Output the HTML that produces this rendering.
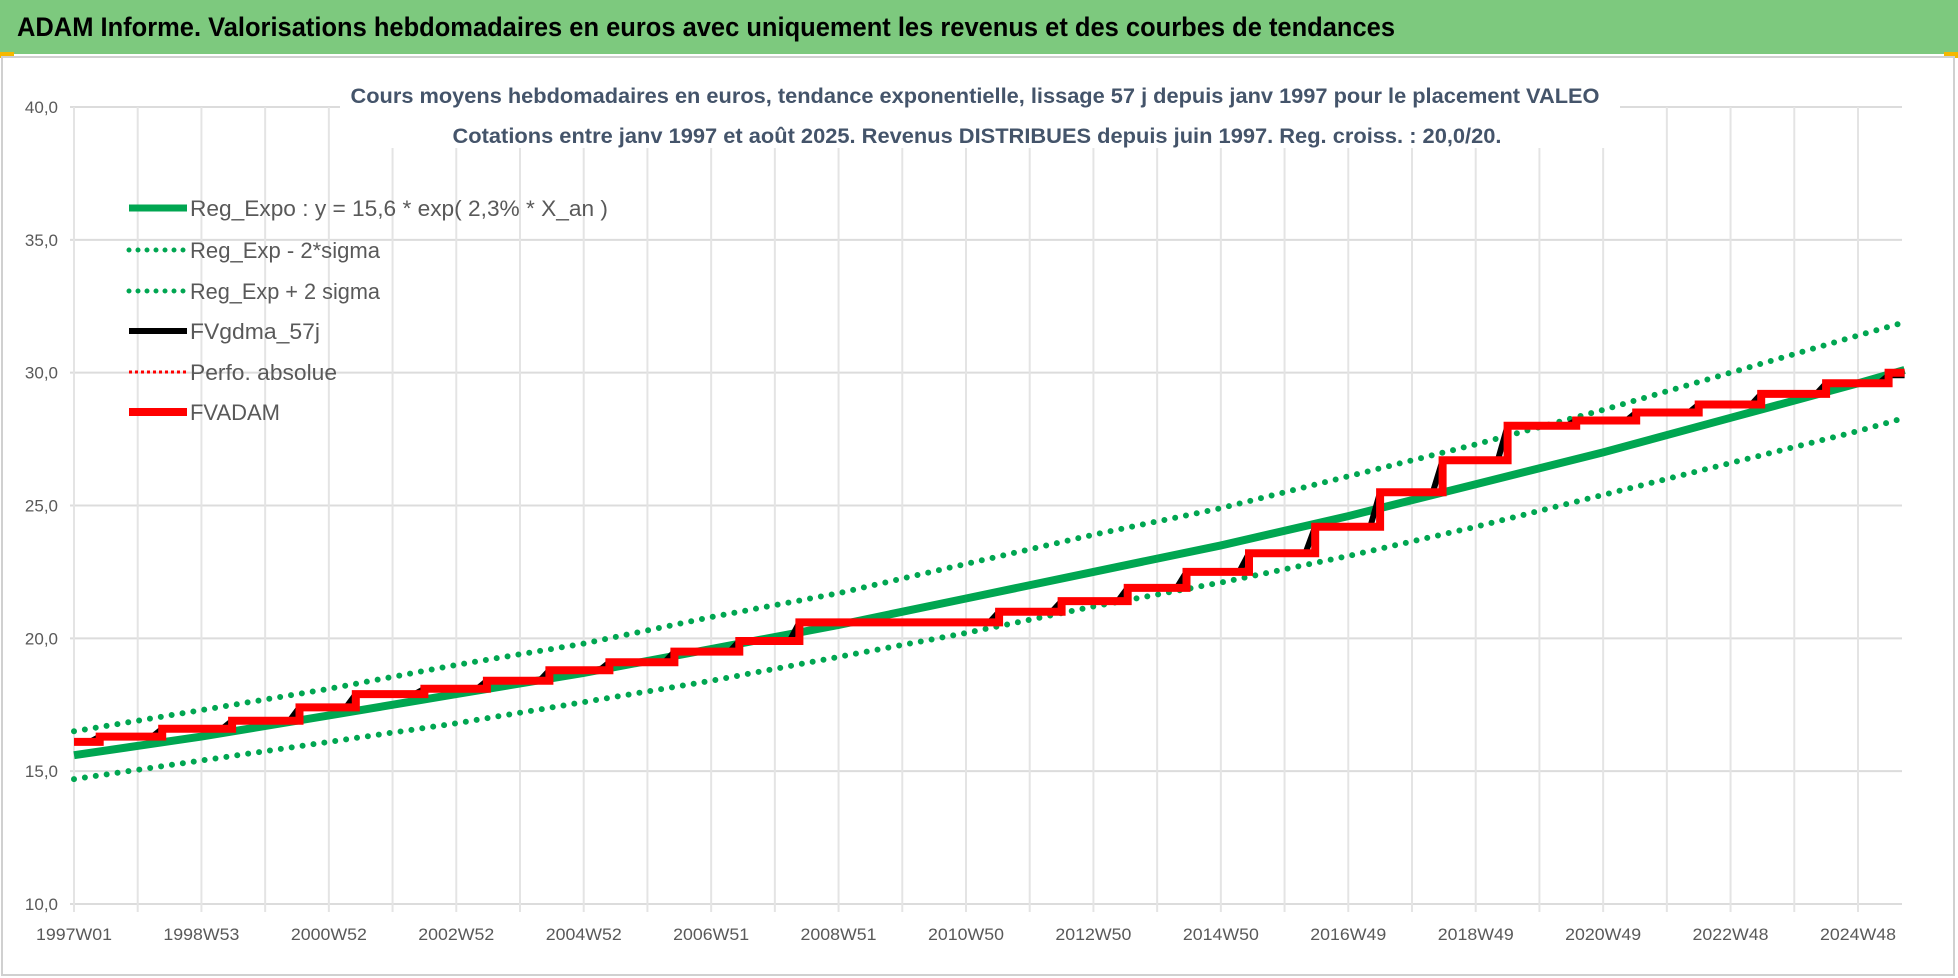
<!DOCTYPE html>
<html><head><meta charset="utf-8"><style>
html,body{margin:0;padding:0;background:#fff;}
svg{display:block;font-family:"Liberation Sans",sans-serif;}
</style></head><body>
<svg id="chart" width="1958" height="978" viewBox="0 0 1958 978">
<rect x="0" y="0" width="1958" height="54" fill="#7dc97e"/>
<rect x="0" y="52" width="14" height="6" fill="#f5b800"/>
<rect x="1944" y="52" width="14" height="6" fill="#f5b800"/>
<text x="17" y="36" font-size="27" font-weight="bold" fill="#000" textLength="1378" lengthAdjust="spacingAndGlyphs">ADAM Informe. Valorisations hebdomadaires en euros avec uniquement les revenus et des courbes de tendances</text>
<rect x="2" y="57" width="1952" height="918" fill="#fff" stroke="#d0d0d0" stroke-width="2"/>
<g id="grid"></g>
<g id="yaxis"></g>
<g id="xaxis"></g>
<rect x="340" y="78" width="1280" height="70" fill="#fff"/>
<text x="975" y="103" font-size="21" font-weight="bold" fill="#44546a" text-anchor="middle" textLength="1249" lengthAdjust="spacingAndGlyphs">Cours moyens hebdomadaires en euros, tendance exponentielle, lissage 57 j depuis janv 1997 pour le placement VALEO</text>
<text x="977" y="143" font-size="21" font-weight="bold" fill="#44546a" text-anchor="middle" textLength="1049" lengthAdjust="spacingAndGlyphs">Cotations entre janv 1997 et août 2025. Revenus DISTRIBUES depuis juin 1997. Reg. croiss. : 20,0/20.</text>
<g id="series"></g>
<g id="legend"></g>
</svg>
<script>
// Data
const xLabels=["1997W01","1998W53","2000W52","2002W52","2004W52","2006W51","2008W51","2010W50","2012W50","2014W50","2016W49","2018W49","2020W49","2022W48","2024W48"];
const yTicks=[10,15,20,25,30,35,40];
const yTickLabels=["10,0","15,0","20,0","25,0","30,0","35,0","40,0"];
const regWeeks=[0,104,208,312,416,520,624,728,832,936,1040,1144,1248,1352,1456,1494];
const regExpo=[15.6,16.3,17.1,17.9,18.7,19.6,20.5,21.5,22.5,23.5,24.6,25.8,27.0,28.3,29.6,30.1];
const regLow=[14.7,15.4,16.1,16.8,17.6,18.4,19.3,20.2,21.2,22.1,23.1,24.2,25.4,26.6,27.8,28.3];
const regHigh=[16.5,17.3,18.1,19.0,19.8,20.8,21.7,22.8,23.9,24.9,26.1,27.3,28.6,30.0,31.4,31.9];
const stepWeeks=[0,21,72,129,184,230,286,337,388,437,490,543,592,755,806,860,908,959,1013,1066,1117,1170,1226,1275,1326,1377,1430,1481,1494];
const fvadam=[16.1,16.3,16.6,16.9,17.4,17.9,18.1,18.4,18.8,19.1,19.5,19.9,20.6,21.0,21.4,21.9,22.5,23.2,24.2,25.5,26.7,28.0,28.2,28.5,28.8,29.2,29.6,30.0];
const fvgdma=[16.1,16.3,16.6,16.9,17.4,17.9,18.1,18.4,18.8,19.1,19.5,19.9,20.6,21.0,21.4,21.9,22.5,23.2,24.2,25.5,26.7,28.0,28.2,28.5,28.8,29.2,29.6,29.9];
const labelWeeks=[0,104,208,312,416,520,624,728,832,936,1040,1144,1248,1352,1456];

const NS="http://www.w3.org/2000/svg";
const X0=74,WPX=1784/1456,Y40=107,PPU=797/30,XR=1902;
const xs=w=>X0+w*WPX, ys=v=>Y40+(40-v)*PPU;
function mk(tag,attrs,parent){const e=document.createElementNS(NS,tag);for(const k in attrs)e.setAttribute(k,attrs[k]);parent.appendChild(e);return e;}
const grid=document.getElementById('grid'),yax=document.getElementById('yaxis'),xax=document.getElementById('xaxis'),ser=document.getElementById('series'),leg=document.getElementById('legend');
yTicks.forEach((v,i)=>{
  const l=mk('line',{x1:X0-4,x2:XR,y1:ys(v),y2:ys(v),stroke:'#dcdcdc','stroke-width':2},grid);
  
  
  const t=mk('text',{x:X0-16,y:ys(v)+6,'font-size':17,fill:'#595959','text-anchor':'end'},yax);
  t.textContent=yTickLabels[i];
  
  
});
for(let i=0;i<=28;i++){
  const l=mk('line',{x1:xs(i*52),x2:xs(i*52),y1:Y40,y2:ys(10)+8,stroke:'#e4e4e4','stroke-width':2},grid);
  
  
}
xLabels.forEach((s,i)=>{
  const t=mk('text',{x:xs(labelWeeks[i]),y:940,'font-size':17,fill:'#595959','text-anchor':'middle',textLength:76,lengthAdjust:'spacingAndGlyphs'},xax);
  t.textContent=s;
  
  
});
function pts(ws,vs){return ws.map((w,i)=>xs(w).toFixed(1)+','+ys(vs[i]).toFixed(1)).join(' ');}
function stepPts(ws,vs,ramp){const p=[];for(let i=0;i<vs.length;i++){const a=ws[i],b=ws[i+1];
  if(ramp&&i>0){p.push([xs(a),ys(vs[i])]);}else p.push([xs(a),ys(vs[i])]);
  p.push([xs(ramp&&i<vs.length-1?b-8:b),ys(vs[i])]);}
  return p.map(q=>q[0].toFixed(1)+','+q[1].toFixed(1)).join(' ');}
const G='#00a651';
const lo=mk('polyline',{points:pts(regWeeks,regLow),fill:'none',stroke:G,'stroke-width':6,'stroke-dasharray':'0 11','stroke-linecap':'round'},ser);


const hi=mk('polyline',{points:pts(regWeeks,regHigh),fill:'none',stroke:G,'stroke-width':6,'stroke-dasharray':'0 11','stroke-linecap':'round'},ser);


const re=mk('polyline',{points:pts(regWeeks,regExpo),fill:'none',stroke:G,'stroke-width':8},ser);


const bl=mk('polyline',{points:stepPts(stepWeeks,fvgdma,true),fill:'none',stroke:'#000','stroke-width':6},ser);


const rd=mk('polyline',{points:stepPts(stepWeeks,fvadam,false),fill:'none',stroke:'#ff0000','stroke-width':8},ser);


// legend
const legItems=[["Reg_Expo : y = 15,6 * exp( 2,3% *  X_an )",G,7,null,418],["Reg_Exp - 2*sigma",G,5,'0 9',190],["Reg_Exp + 2 sigma",G,5,'0 9',190],["FVgdma_57j","#000",6,null,130],["Perfo. absolue","#ff0000",3,'3 3',147],["FVADAM","#ff0000",8,null,90]];
const legY=[208,250,291,331,372,412];
legItems.forEach((it,i)=>{
  const y=legY[i];
  const l=mk('line',{x1:129,x2:187,y1:y,y2:y,stroke:it[1],'stroke-width':it[2],'stroke-linecap':it[3]&&it[3].startsWith('0')?'round':'butt'},leg);
  if(it[3])l.setAttribute('stroke-dasharray',it[3]);
  
  
  const t=mk('text',{x:190,y:y+8,'font-size':22,fill:'#595959',textLength:it[4],lengthAdjust:'spacingAndGlyphs'},leg);
  t.textContent=it[0];
  
  
});
</script>
</body></html>
